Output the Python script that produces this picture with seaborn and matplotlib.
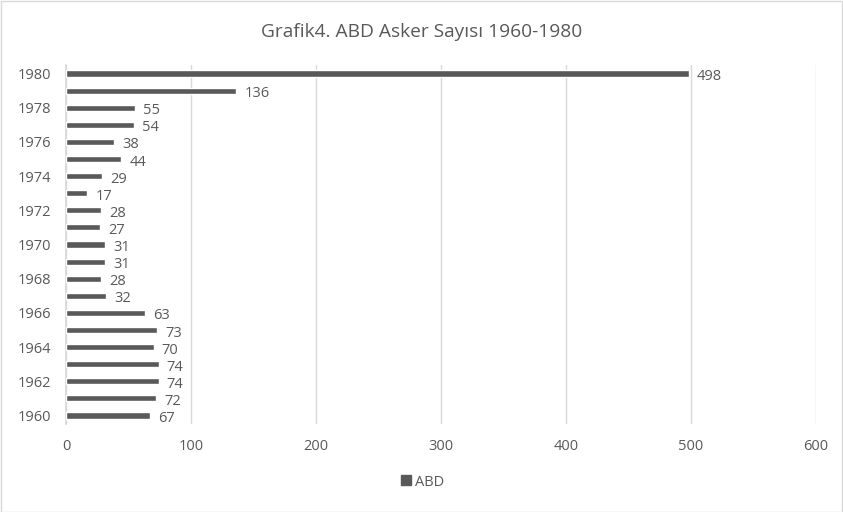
import matplotlib
matplotlib.use("Agg")
import matplotlib.pyplot as plt
import seaborn as sns
import pandas as pd
from matplotlib.patches import Rectangle
from matplotlib.lines import Line2D

years = list(range(1960, 1981))
values = [67, 72, 74, 74, 70, 73, 63, 32, 28, 31, 31, 27, 28, 17, 29, 44, 38, 54, 55, 136, 498]
series_name = "ABD"
title = "Grafik4. ABD Asker Sayısı 1960-1980"
x_ticks = [0, 100, 200, 300, 400, 500, 600]

sns.set_theme(style="white")
plt.rcParams['font.family'] = ['Open Sans', 'DejaVu Sans']

df = pd.DataFrame({"Yil": [str(y) for y in years], "Deger": values})
order = [str(y) for y in reversed(years)]

fig = plt.figure(figsize=(8.43, 5.12), dpi=100)
ax = fig.add_axes([66/843, 1-424/512, (816-66)/843, (424-65)/512])

bar_color = "#595959"
text_color = "#595959"
grid_color = "#d9d9d9"

sns.barplot(data=df, x="Deger", y="Yil", order=order, orient="h",
            color=bar_color, width=0.36, saturation=1, ax=ax, zorder=3)

ax.set_xlim(0, 600)
ax.set_xticks(x_ticks)
ax.set_xticklabels([str(t) for t in x_ticks])
labels = [lab if int(lab) % 2 == 0 else "" for lab in order]
ax.set_yticks(range(len(order)))
ax.set_yticklabels(labels)
ax.tick_params(axis="both", length=0, labelsize=10.5, labelcolor=text_color)
ax.tick_params(axis="x", pad=11)
ax.tick_params(axis="y", pad=11)
ax.set_xlabel("")
ax.set_ylabel("")
ax.xaxis.grid(True, color=grid_color, linewidth=1, zorder=0)
ax.yaxis.grid(False)
for s in ["top", "right", "bottom"]:
    ax.spines[s].set_visible(False)
ax.spines["left"].set_color(grid_color)
ax.spines["left"].set_zorder(1)

for cont in ax.containers:
    texts = ax.bar_label(cont, labels=[str(v) for v in reversed(values)], padding=6,
                         fontsize=10.5, color=text_color)
    for t in texts:
        t.set_va("center")
        t.xyann = (6, -2.2)

fig.text(0.5, 1-32/512, title, ha="center", va="center", fontsize=13.8, color=text_color)

handle = Line2D([], [], marker="s", linestyle="none", color=bar_color, markersize=7)
fig.legend([handle], [series_name], loc="center", bbox_to_anchor=(0.5, 1-482/512),
           frameon=False, fontsize=10.5, labelcolor=text_color, handletextpad=0.1,
           handlelength=1.0)

fig.patches.append(Rectangle((0.5/843, 0.5/512), 1-1.5/843, 1-1.5/512, transform=fig.transFigure,
                             fill=False, edgecolor=grid_color, linewidth=1))

fig.savefig("out.png", dpi=100)
